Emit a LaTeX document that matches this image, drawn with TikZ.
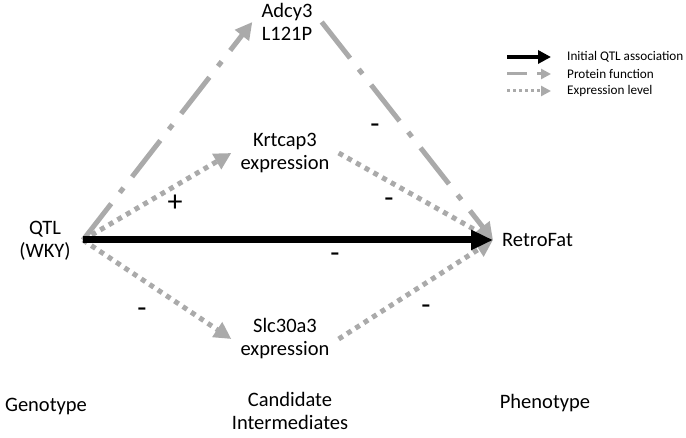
\documentclass[tikz,border=0pt]{standalone}
\usepackage{fontspec}
\setmainfont{Carlito}
\usetikzlibrary{arrows.meta}
\definecolor{lgray}{RGB}{170,170,170}
\begin{document}
\begin{tikzpicture}[x=1pt,y=-1pt,
  lbl/.style={font=\fontsize{20.5}{23}\selectfont, align=center, inner sep=9pt},
  sign/.style={font=\fontsize{30}{30}\selectfont, inner sep=0pt},
  legtxt/.style={font=\fontsize{13.2}{15}\selectfont, anchor=west, inner sep=0pt},
  mainarrow/.style={draw=black, line width=7pt, -{Triangle[length=22pt,width=19pt]}},
  protarrow/.style={draw=lgray, line width=5pt, dash pattern=on 46pt off 14pt on 6pt off 14pt, -{Triangle[length=17pt,width=17pt]}},
  exprarrow/.style={draw=lgray, line width=5pt, dash pattern=on 5pt off 5pt, -{Triangle[length=17pt,width=17pt]}}
]
\useasboundingbox (0,0) rectangle (686,438);
% nodes
\node[lbl] (qtl) at (45,241) {QTL\\(WKY)};
\node[lbl] (adcy) at (287,22) {Adcy3\\L121P};
\node[lbl] (krt) at (285,153) {Krtcap3\\expression};
\node[lbl] (slc) at (285,339) {Slc30a3\\expression};
\node[lbl, anchor=west] (ret) at (493,240) {RetroFat};
\coordinate (src) at (83,240);
% gray connectors
\draw[protarrow] (src) -- (adcy.west);
\draw[exprarrow] (src) -- (krt.west);
\draw[exprarrow] (src) -- (slc.west);
\draw[protarrow] (adcy.east) -- (ret.west);
\draw[exprarrow] (krt.east) -- (ret.west);
\draw[exprarrow] (slc.east) -- (ret.west);
% main association
\draw[mainarrow] (src) -- (ret.west);
% signs
\node[sign] (s1) at (175,203) {+};
\node[sign] (s2) at (142,313) {-};
\node[sign] (s3) at (335,258) {-};
\node[sign] (s4) at (375,129) {-};
\node[sign] (s5) at (389,203) {-};
\node[sign] (s6) at (426,310) {-};
% bottom labels
\node[lbl] (geno) at (46,407) {Genotype};
\node[lbl] (cand) at (290,411) {Candidate\\Intermediates};
\node[lbl] (pheno) at (545,403) {Phenotype};
% legend
\coordinate (l1a) at (507,57); \coordinate (l1b) at (551,57);
\coordinate (l2a) at (507,74); \coordinate (l2b) at (527,74);
\coordinate (l2c) at (537,74); \coordinate (l2d) at (551,74);
\coordinate (l3a) at (507,91); \coordinate (l3b) at (551,91);
\draw[draw=black, line width=4pt, -{Triangle[length=13pt,width=13pt]}] (l1a) -- (l1b);
\draw[draw=lgray, line width=3pt] (l2a) -- (l2b);
\draw[draw=lgray, line width=3pt, -{Triangle[length=10pt,width=10pt]}] (l2c) -- (l2d);
\draw[draw=lgray, line width=3pt, dash pattern=on 3pt off 3pt, -{Triangle[length=10pt,width=10pt]}] (l3a) -- (l3b);
\node[legtxt] (t1) at (567,57) {Initial QTL association};
\node[legtxt] (t2) at (567,74) {Protein function};
\node[legtxt] (t3) at (567,91) {Expression level};
\end{tikzpicture}
\end{document}
